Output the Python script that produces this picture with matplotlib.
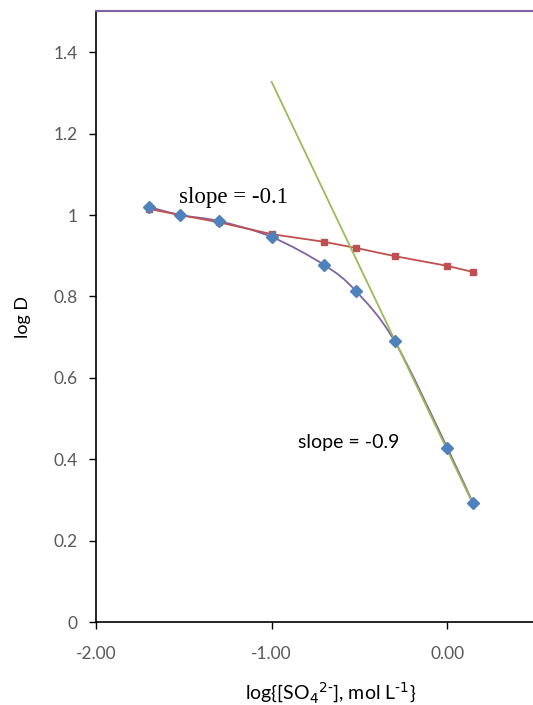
import numpy as np
import matplotlib
matplotlib.use("Agg")
import matplotlib.pyplot as plt
from matplotlib.path import Path
from matplotlib.patches import PathPatch

# measured data: log[SO4 2-] vs log D
log_so4 = [-1.70, -1.52, -1.30, -1.00, -0.70, -0.52, -0.30, 0.00, 0.146]
log_d = [1.02, 1.00, 0.985, 0.946, 0.877, 0.813, 0.69, 0.428, 0.292]

# low-concentration fit (slope ~ -0.1)
fit_low_y = [1.015, 1.0, 0.982, 0.953, 0.934, 0.919, 0.899, 0.875, 0.86]

# high-concentration fit (slope ~ -0.9)
fit_high_x = [-1.00, 0.146]
fit_high_y = [1.327, 0.29]

xticks = [-2.0, -1.0, 0.0]
yticks = [0, 0.2, 0.4, 0.6, 0.8, 1.0, 1.2, 1.4]

BLUE = "#4F81BD"
RED = "#C0504D"
GREEN = "#9BBB59"
PURPLE = "#8064A2"
GREY = "#595959"


def smooth_path(xs, ys, tension=1 / 6):
    # Catmull-Rom style bezier path through the points (Excel "smoothed line")
    pts = np.column_stack([xs, ys])
    verts = [pts[0]]
    codes = [Path.MOVETO]
    n = len(pts)
    for i in range(n - 1):
        p0 = pts[max(i - 1, 0)]
        p1 = pts[i]
        p2 = pts[i + 1]
        p3 = pts[min(i + 2, n - 1)]
        c1 = p1 + (p2 - p0) * tension
        c2 = p2 - (p3 - p1) * tension
        verts += [c1, c2, p2]
        codes += [Path.CURVE4] * 3
    return Path(verts, codes)


fig = plt.figure(figsize=(5.33, 7.05), dpi=100)
ax = fig.add_axes([0.180, 0.1177, 1.004 - 0.180, 0.9837 - 0.1177])

ax.add_patch(PathPatch(smooth_path(log_so4, log_d), fill=False,
                       edgecolor=PURPLE, lw=1.3, zorder=2))
ax.plot(log_so4, fit_low_y, color=RED, lw=1.3, marker="s", markersize=4,
        zorder=3)
ax.plot(fit_high_x, fit_high_y, color=GREEN, lw=1.3, zorder=4)
ax.plot(log_so4, log_d, linestyle="none", marker="D", markersize=6.5,
        color=BLUE, zorder=5)

ax.text(-1.53, 1.044, "slope = -0.1", family="Liberation Serif",
        fontsize=16.5, va="center", ha="left")
ax.text(-0.85, 0.442, "slope = -0.9", family="Lato", fontsize=14,
        va="center", ha="left")

ax.set_xlim(-2.0, 0.5)
ax.set_ylim(0, 1.5)
ax.set_xticks(xticks)
ax.set_xticklabels(["%.2f" % v for v in xticks])
ax.set_yticks(yticks)
ax.set_yticklabels(["%g" % v for v in yticks])

ax.spines["right"].set_visible(False)
ax.spines["top"].set_color(PURPLE)
ax.spines["top"].set_linewidth(1.5)
for side in ["left", "bottom"]:
    ax.spines[side].set_color("black")
    ax.spines[side].set_linewidth(1.2)

ax.tick_params(direction="out", length=5, width=1, labelsize=12.5,
               labelcolor=GREY, colors="black", pad=8)
ax.tick_params(axis="x", pad=12)
for lab in ax.get_xticklabels() + ax.get_yticklabels():
    lab.set_family("Lato")

ax.set_ylabel("log D", family="Lato", fontsize=13, labelpad=16)
ax.set_xlabel(r"log{[SO$_4$$^{2\text{-}}$], mol L$^{\text{-}1}$}",
              family="Lato", fontsize=14, labelpad=10)
ax.xaxis.set_label_coords(0.535, -0.095)

fig.savefig("out.png", dpi=100)
